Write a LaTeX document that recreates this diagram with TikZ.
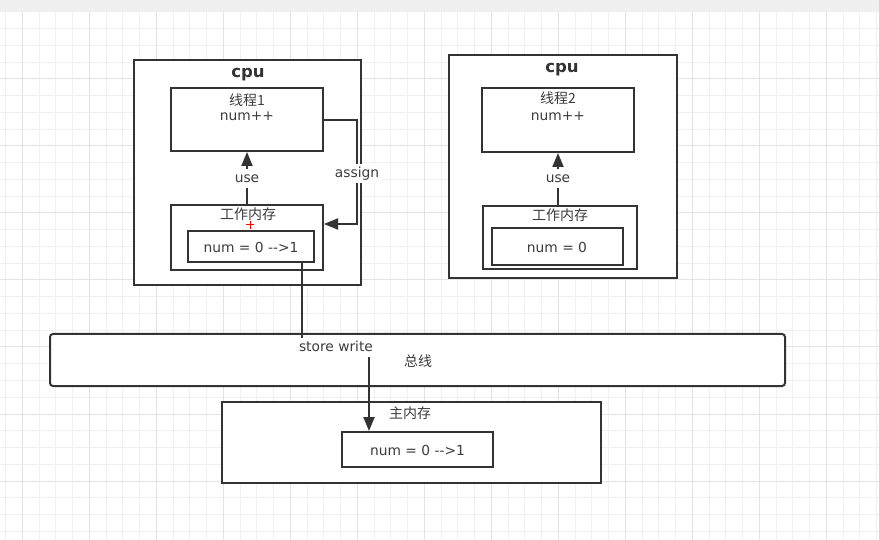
\documentclass[tikz,border=0pt]{standalone}
\usepackage{fontspec}
\setmainfont{DejaVu Sans}[Ligatures=NoCommon]
\newfontfamily\cjk{Noto Sans CJK SC}
\usetikzlibrary{arrows.meta}
\definecolor{dark}{RGB}{51,51,51}
\definecolor{txt}{RGB}{60,60,60}
\definecolor{gmin}{RGB}{240,240,240}
\definecolor{gmaj}{RGB}{228,228,228}
\definecolor{topbar}{RGB}{240,240,240}
\begin{document}
\begin{tikzpicture}[x=1pt,y=-1pt,
  box/.style={draw=dark,line width=2pt,fill=white,inner sep=0pt,rectangle},
  bus/.style={box,rounded corners=3pt},
  lat/.style={text=txt,inner sep=1pt,font=\fontsize{13.8}{16}\selectfont},
  zh/.style={text=txt,inner sep=1pt,font=\cjk\fontsize{14}{16}\selectfont},
  title/.style={text=dark,inner sep=1pt,font=\bfseries\fontsize{16.5}{18}\selectfont},
  lbl/.style={lat,fill=white,inner sep=3pt,text height=10pt,text depth=3pt},
  arr/.style={draw=dark,line width=2pt,-{Triangle[length=14pt,width=11pt]}},
  gridmin/.style={draw=gmin,line width=1pt},
  gridmaj/.style={draw=gmaj,line width=1pt}]
\useasboundingbox (0,0) rectangle (879,540);
% background
\fill[white] (0,0) rectangle (879,540);
\foreach \i in {0,...,52} \draw[gridmin] ({5.58+16.75*\i},12) -- ({5.58+16.75*\i},540);
\foreach \j in {0,...,32} \draw[gridmin] (0,{12+16.75*\j}) -- (879,{12+16.75*\j});
\foreach \i in {0,...,13} \draw[gridmaj] ({22.33+67*\i},12) -- ({22.33+67*\i},540);
\foreach \j in {0,...,8} \draw[gridmaj] (0,{12+67*\j}) -- (879,{12+67*\j});
\fill[topbar] (0,0) rectangle (879,12);

% CPU 1
\node[box,minimum width=227pt,minimum height=225pt] (cpu1) at (247.5,172.5) {};
\node[title] (cpu1t) at (248,75) {cpu};
\node[box,minimum width=152pt,minimum height=63pt] (thread1) at (247,119.5) {};
\node[zh] (thread1t) at (247,100) {线程1};
\node[lat] (thread1c) at (247,116) {num++};
\node[box,minimum width=152pt,minimum height=65pt] (wm1) at (247,237.5) {};
\node[zh] (wm1t) at (248,214) {工作内存};
\node[box,minimum width=126pt,minimum height=31pt] (inner1) at (251,246.5) {};
\node[lat] (inner1t) at (251,247) {num = 0 -{}-{}>1};

% CPU 2
\node[box,minimum width=228pt,minimum height=223pt] (cpu2) at (563,166.5) {};
\node[title] (cpu2t) at (562,70) {cpu};
\node[box,minimum width=152pt,minimum height=64pt] (thread2) at (558,120) {};
\node[zh] (thread2t) at (558,98) {线程2};
\node[lat] (thread2c) at (558,116) {num++};
\node[box,minimum width=154pt,minimum height=63pt] (wm2) at (560,237.5) {};
\node[zh] (wm2t) at (560,215) {工作内存};
\node[box,minimum width=131pt,minimum height=37pt] (inner2) at (557.5,246.5) {};
\node[lat] (inner2t) at (557,247) {num = 0};

% bus
\node[bus,minimum width=735pt,minimum height=52pt] (bus) at (417.5,360) {};
\node[zh] (bust) at (418,361) {总线};

% main memory
\node[box,minimum width=379pt,minimum height=81pt] (mm) at (411.5,442.5) {};
\node[zh] (mmt) at (410,413) {主内存};
\node[box,minimum width=151pt,minimum height=35pt] (mmin) at (417.5,449.5) {};
\node[lat] (mmint) at (417.5,450) {num = 0 -{}-{}>1};

% connectors
\draw[arr] (wm1.north) -- (thread1.south);
\node[lbl] (use1) at (247,179) {use};
\draw[arr] (wm2.north -| thread2.south) -- (thread2.south);
\node[lbl] (use2) at (558,179) {use};

\coordinate (as1) at (357,120);
\coordinate (as2) at (357,224);
\draw[arr] (thread1.east |- as1) -- (as1) -- (as2) -- (wm1.east |- as2);
\node[lbl] (assign) at (357,174) {assign};

\coordinate (sw1) at (302,348);
\coordinate (sw2) at (369,348);
\draw[arr] (inner1.south -| sw1) -- (sw1) -- (sw2) -- (mmin.north -| sw2);
\node[lbl] (store) at (336,348) {store write};

% red cursor mark
\draw[red,line width=1pt] (246,225) -- (254,225) (250,221) -- (250,229);
\end{tikzpicture}
\end{document}
